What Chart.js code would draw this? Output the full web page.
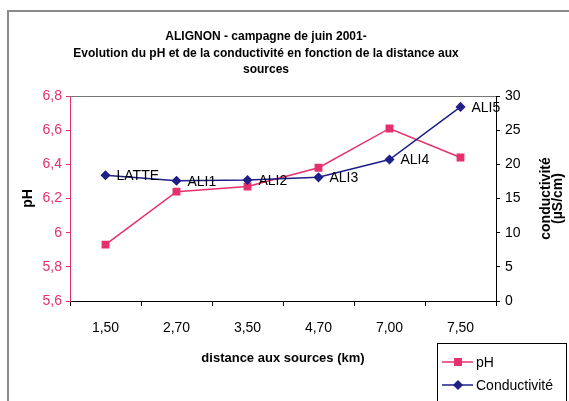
<!DOCTYPE html>
<html>
<head>
<meta charset="utf-8">
<script src="https://cdn.jsdelivr.net/npm/chart.js@4.4.1/dist/chart.umd.min.js"></script>
<style>
  body { margin: 0; background: #fff; }
  #wrap { width: 569px; height: 401px; }
</style>
</head>
<body>
<div id="wrap"><canvas id="chart" width="569" height="401"></canvas></div>
<script>
// Distances (km) along the river, used as categories
const distances = ['1,50', '2,70', '3,50', '4,70', '7,00', '7,50'];
// Sampling station names (shown next to the conductivity points)
const stations = ['LATTE', 'ALI1', 'ALI2', 'ALI3', 'ALI4', 'ALI5'];
// Measured values
const phValues = [5.93, 6.24, 6.27, 6.38, 6.61, 6.44];
const conductValues = [18.4, 17.6, 17.7, 18.1, 20.7, 28.4];
// Tick labels
const phTicks = ['5,6', '5,8', '6', '6,2', '6,4', '6,6', '6,8'];
const conductTicks = ['0', '5', '10', '15', '20', '25', '30'];

const titleLines = [
  'ALIGNON - campagne de juin 2001-',
  'Evolution du pH et de la conductivité en fonction de la distance aux',
  'sources'
];

const PINK = '#e6306c';
const BLUE = '#1f1f8a';
const FONT = '"Liberation Sans", Arial, sans-serif';

Chart.defaults.font.family = FONT;

// Draws the frame, title, top border, station labels, right axis title and legend
const decorPlugin = {
  id: 'decor',
  beforeDraw(chart) {
    const ctx = chart.ctx;
    ctx.save();
    ctx.fillStyle = '#fff';
    ctx.fillRect(0, 0, chart.width, chart.height);
    // outer frame (only left and top visible)
    ctx.strokeStyle = '#8a8a8a';
    ctx.lineWidth = 2;
    ctx.beginPath();
    ctx.moveTo(8, chart.height);
    ctx.lineTo(8, 11);
    ctx.lineTo(chart.width, 11);
    ctx.stroke();
    // title
    ctx.fillStyle = '#000';
    ctx.font = 'bold 12px ' + FONT;
    ctx.textAlign = 'center';
    ctx.textBaseline = 'middle';
    titleLines.forEach((t, i) => ctx.fillText(t, 266, 37 + i * 16.5));
    ctx.restore();
  },
  afterDraw(chart) {
    const ctx = chart.ctx;
    const area = chart.chartArea;
    ctx.save();
    // top border of plot area
    ctx.strokeStyle = '#777';
    ctx.lineWidth = 1;
    ctx.beginPath();
    ctx.moveTo(area.left, area.top + 0.5);
    ctx.lineTo(area.right, area.top + 0.5);
    ctx.stroke();

    // right axis title, reading bottom to top
    ctx.translate(551, (area.top + area.bottom) / 2);
    ctx.rotate(-Math.PI / 2);
    ctx.fillStyle = '#000';
    ctx.font = 'bold 14px ' + FONT;
    ctx.textAlign = 'center';
    ctx.textBaseline = 'middle';
    ctx.fillText('conductivité', 0, -5);
    ctx.fillText('(µS/cm)', 0, 7);
    ctx.restore();

    // legend
    ctx.save();
    ctx.strokeStyle = '#000';
    ctx.lineWidth = 1;
    ctx.strokeRect(437.5, 343.5, 129, 70);
    const items = [
      { label: 'pH', ds: chart.data.datasets[0], y: 362 },
      { label: 'Conductivité', ds: chart.data.datasets[1], y: 385 }
    ];
    items.forEach(it => {
      ctx.strokeStyle = it.ds.borderColor;
      ctx.lineWidth = it.ds.borderWidth;
      ctx.beginPath();
      ctx.moveTo(442, it.y);
      ctx.lineTo(473, it.y);
      ctx.stroke();
      ctx.fillStyle = it.ds.pointBackgroundColor;
      Chart.helpers.drawPoint(ctx, {
        pointStyle: it.ds.pointStyle,
        radius: it.ds.pointRadius,
        borderWidth: 1,
        rotation: 0
      }, 458, it.y);
      ctx.fillStyle = '#000';
      ctx.font = '14px ' + FONT;
      ctx.textAlign = 'left';
      ctx.textBaseline = 'middle';
      ctx.fillText(it.label, 476, it.y + 1);
    });
    ctx.restore();
  },
  afterDatasetsDraw(chart) {
    // station names next to conductivity points
    const ctx = chart.ctx;
    const meta = chart.getDatasetMeta(1);
    ctx.save();
    ctx.fillStyle = '#000';
    ctx.font = '14px ' + FONT;
    ctx.textAlign = 'left';
    ctx.textBaseline = 'middle';
    meta.data.forEach((pt, i) => {
      ctx.fillText(stations[i], pt.x + 11, pt.y + 1);
    });
    ctx.restore();
  }
};

new Chart(document.getElementById('chart').getContext('2d'), {
  type: 'line',
  data: {
    labels: distances,
    datasets: [
      {
        label: 'pH',
        data: phValues,
        yAxisID: 'y',
        order: 1,
        borderColor: PINK,
        borderWidth: 1.5,
        pointStyle: 'rect',
        pointRadius: 4.5,
        pointBackgroundColor: PINK,
        pointBorderColor: PINK,
        tension: 0
      },
      {
        label: 'Conductivité',
        data: conductValues,
        yAxisID: 'y1',
        order: 0,
        borderColor: BLUE,
        borderWidth: 1.5,
        pointStyle: 'rectRot',
        pointRadius: 4,
        pointBackgroundColor: BLUE,
        pointBorderColor: BLUE,
        tension: 0
      }
    ]
  },
  options: {
    responsive: false,
    animation: false,
    layout: { padding: { top: 96, left: 0, right: 0, bottom: 0 } },
    plugins: {
      legend: { display: false },
      title: { display: false },
      tooltip: { enabled: false }
    },
    scales: {
      x: {
        type: 'category',
        offset: true,
        grid: { offset: true, drawOnChartArea: false, tickLength: 5, color: '#000' },
        border: { color: '#000', width: 1 },
        ticks: { color: '#000', font: { size: 14 }, padding: 14, maxRotation: 0 },
        title: {
          display: true,
          text: 'distance aux sources (km)',
          color: '#000',
          font: { size: 13, weight: 'bold' },
          padding: { top: 0, bottom: 35 }
        },
        afterFit(scale) { scale.height = 100; }
      },
      y: {
        position: 'left',
        min: 5.6,
        max: 6.8,
        grid: { drawOnChartArea: false, tickLength: 4, color: PINK },
        border: { color: PINK, width: 1 },
        ticks: {
          stepSize: 0.2,
          color: PINK,
          font: { size: 14 },
          padding: 4,
          callback: (v, i) => phTicks[i]
        },
        title: {
          display: true,
          text: 'pH',
          color: '#000',
          font: { size: 14, weight: 'bold' },
          padding: { top: 20, bottom: 0 }
        },
        afterFit(scale) { scale.width = 70; }
      },
      y1: {
        position: 'right',
        min: 0,
        max: 30,
        grid: { drawOnChartArea: false, tickLength: 4, color: '#000' },
        border: { color: '#000', width: 1 },
        ticks: {
          stepSize: 5,
          color: '#000',
          font: { size: 14 },
          padding: 5,
          callback: (v, i) => conductTicks[i]
        },
        afterFit(scale) { scale.width = 73; }
      }
    }
  },
  plugins: [decorPlugin]
});
</script>
</body>
</html>
